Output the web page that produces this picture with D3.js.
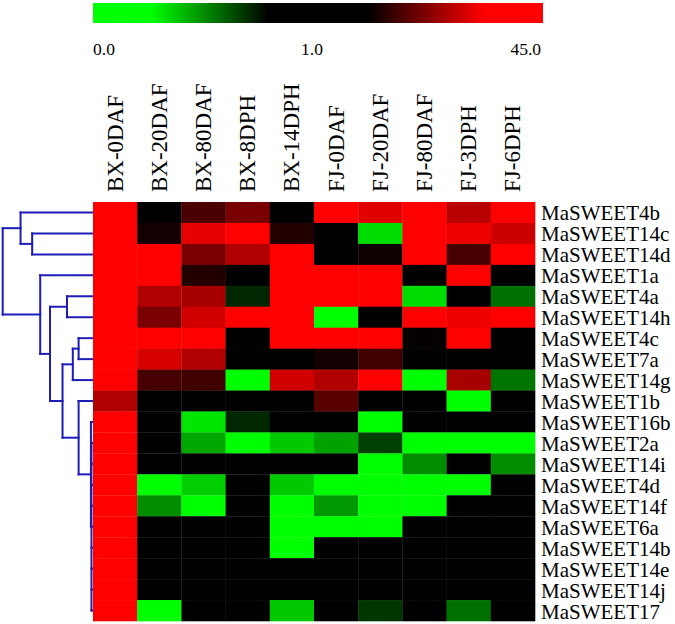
<!DOCTYPE html>
<html>
<head>
<meta charset="utf-8">
<script src="https://cdn.jsdelivr.net/npm/d3@7"></script>
<style>
  body { margin: 0; background: #fff; }
  text { font-family: 'Liberation Serif', 'Times New Roman', serif; fill: #000; }
</style>
</head>
<body>
<div id="chart"></div>
<script>
var samples = ['BX-0DAF', 'BX-20DAF', 'BX-80DAF', 'BX-8DPH', 'BX-14DPH',
    'FJ-0DAF', 'FJ-20DAF', 'FJ-80DAF', 'FJ-3DPH', 'FJ-6DPH'];

var genes = ['MaSWEET4b', 'MaSWEET14c', 'MaSWEET14d', 'MaSWEET1a', 'MaSWEET4a',
    'MaSWEET14h', 'MaSWEET4c', 'MaSWEET7a', 'MaSWEET14g', 'MaSWEET1b',
    'MaSWEET16b', 'MaSWEET2a', 'MaSWEET14i', 'MaSWEET4d', 'MaSWEET14f',
    'MaSWEET6a', 'MaSWEET14b', 'MaSWEET14e', 'MaSWEET14j', 'MaSWEET17'];

//relative expression, one row per gene, columns in samples order
var values = [
    [40, 1.0, 4.1, 5.9, 1.0, 40, 13.1, 40, 9.7, 40],
    [40, 2.7, 13.8, 40, 3.0, 1.0, 0.33, 40, 14.7, 11.3],
    [40, 40, 5.9, 9.1, 40, 1.0, 2.6, 40, 4.0, 40],
    [40, 40, 3.0, 1.0, 40, 40, 40, 1.0, 40, 1.0],
    [40, 9.1, 8.5, 0.70, 40, 40, 40, 0.33, 1.0, 0.55],
    [40, 5.9, 11.6, 40, 40, 0.1, 1.0, 40, 14.7, 40],
    [40, 40, 40, 1.0, 40, 40, 40, 2.4, 40, 1.0],
    [40, 12.3, 9.1, 1.0, 1.0, 2.7, 3.8, 1.0, 1.0, 1.0],
    [40, 4.0, 3.8, 0.1, 11.6, 9.1, 40, 0.1, 8.5, 0.54],
    [9.1, 1.0, 1.0, 1.0, 1.0, 4.6, 1.0, 1.0, 0.1, 1.0],
    [40, 1.0, 0.31, 0.70, 1.0, 1.0, 0.1, 1.0, 1.0, 1.0],
    [40, 1.0, 0.44, 0.1, 0.37, 0.45, 0.65, 0.1, 0.1, 0.1],
    [40, 1.0, 1.0, 1.0, 1.0, 1.0, 0.1, 0.49, 1.0, 0.49],
    [40, 0.1, 0.36, 1.0, 0.37, 0.1, 0.1, 0.1, 0.1, 1.0],
    [40, 0.49, 0.1, 1.0, 0.1, 0.47, 0.1, 0.1, 1.0, 1.0],
    [40, 1.0, 1.0, 1.0, 0.1, 0.1, 0.1, 1.0, 1.0, 1.0],
    [40, 1.0, 1.0, 1.0, 0.1, 1.0, 1.0, 1.0, 1.0, 1.0],
    [40, 1.0, 1.0, 1.0, 1.0, 1.0, 1.0, 1.0, 1.0, 1.0],
    [40, 1.0, 1.0, 1.0, 1.0, 1.0, 1.0, 1.0, 1.0, 1.0],
    [40, 0.1, 1.0, 1.0, 0.37, 1.0, 0.67, 1.0, 0.55, 1.0]
];

var legend_ticks = [0, 1, 45];

//row dendrogram: [height, child, child, ...], leaves are gene names
var tree = [1.0,
    [0.80, 'MaSWEET4b', [0.67, 'MaSWEET14c', 'MaSWEET14d']],
    [0.58, 'MaSWEET1a',
        [0.47,
            [0.28, 'MaSWEET4a', 'MaSWEET14h'],
            [0.33,
                [0.215, [0.15, 'MaSWEET4c', 'MaSWEET7a'], 'MaSWEET14g'],
                [0.15, 'MaSWEET1b',
                    [0.012, 'MaSWEET16b',
                        [0.006, 'MaSWEET2a', 'MaSWEET14i', 'MaSWEET4d', 'MaSWEET14f',
                            'MaSWEET6a', 'MaSWEET14b', 'MaSWEET14e', 'MaSWEET14j', 'MaSWEET17']]]]]]];

var width = 675, height = 624;

var svg = d3.select('#chart').append('svg')
    .attr('width', width)
    .attr('height', height);

var x = d3.scaleBand().domain(samples).range([93, 535]);
var y = d3.scaleBand().domain(genes).range([202, 621]);

//value -> position on the colour bar (0..1), 1.0 sits in the middle
function pos(v) {
    if (v <= 1) { return 0.5 * v; }
    return 0.5 + 0.5 * Math.log(v) / Math.log(45);
}

var stops = [0, 0.13, 0.39, 0.61, 0.87, 1];
var stop_colors = ['#00ff00', '#00ff00', '#000000', '#000000', '#ff0000', '#ff0000'];
var color = d3.scaleLinear().domain(stops).range(stop_colors).clamp(true);

//colour bar
var lx = d3.scaleLinear().domain([0, 1]).range([93, 543]);

var grad = svg.append('defs').append('linearGradient')
    .attr('id', 'bar-grad');
grad.selectAll('stop')
    .data(stops)
    .enter().append('stop')
        .attr('offset', function(d) { return d * 100 + '%'; })
        .attr('stop-color', function(d, i) { return stop_colors[i]; });

svg.append('rect')
    .attr('x', lx(0))
    .attr('y', 3)
    .attr('width', lx(1) - lx(0))
    .attr('height', 20)
    .attr('fill', 'url(#bar-grad)');

svg.selectAll('.legend-label')
    .data(legend_ticks)
    .enter().append('text')
        .attr('class', 'legend-label')
        .attr('x', function(d, i) { return i === 0 ? lx(0) : i === 2 ? lx(1) - 2 : lx(pos(d)) - 6; })
        .attr('y', 55)
        .attr('text-anchor', function(d, i) { return ['start', 'middle', 'end'][i]; })
        .style('font-size', '17.5px')
        .text(function(d) { return d.toFixed(1); });

//heatmap cells
var cells = [];
values.forEach(function(row, i) {
    row.forEach(function(v, j) {
        cells.push({ gene: genes[i], sample: samples[j], value: v });
    });
});

svg.append('g').selectAll('rect')
    .data(cells)
    .enter().append('rect')
        .attr('x', function(d) { return x(d.sample); })
        .attr('y', function(d) { return y(d.gene); })
        .attr('width', x.bandwidth() + 0.3)
        .attr('height', y.bandwidth() + 0.3)
        .attr('fill', function(d) { return color(pos(d.value)); });

//column labels
svg.append('g').selectAll('text')
    .data(samples)
    .enter().append('text')
        .attr('transform', function(d) {
            return 'translate(' + (x(d) + x.bandwidth() / 2 + 7.5) + ',192) rotate(-90)';
        })
        .style('font-size', '23px')
        .text(function(d) { return d; });

//row labels
svg.append('g').selectAll('text')
    .data(genes)
    .enter().append('text')
        .attr('transform', function(d) {
            return 'translate(541,' + (y(d) + y.bandwidth() - 2.5) + ')';
        })
        .style('font-size', '21px')
        .text(function(d) { return d; });

//dendrogram
var dx = d3.scaleLinear().domain([0, 1]).range([92, 2.7]);
var links = [];

function layout(node) {
    if (typeof node === 'string') {
        return { x: dx(0), y: y(node) + y.bandwidth() / 2 };
    }
    var kids = node.slice(1).map(layout);
    var n = { x: dx(node[0]), y: (kids[0].y + kids[kids.length - 1].y) / 2 };
    links.push([n.x, kids[0].y, n.x, kids[kids.length - 1].y]);
    kids.forEach(function(k) { links.push([n.x, k.y, k.x, k.y]); });
    return n;
}
layout(tree);

svg.append('g').selectAll('line')
    .data(links)
    .enter().append('line')
        .attr('x1', function(d) { return d[0]; })
        .attr('y1', function(d) { return d[1]; })
        .attr('x2', function(d) { return d[2]; })
        .attr('y2', function(d) { return d[3]; })
        .attr('stroke', '#1c1cb8')
        .attr('stroke-width', 2)
        .attr('stroke-linecap', 'square');
</script>
</body>
</html>
